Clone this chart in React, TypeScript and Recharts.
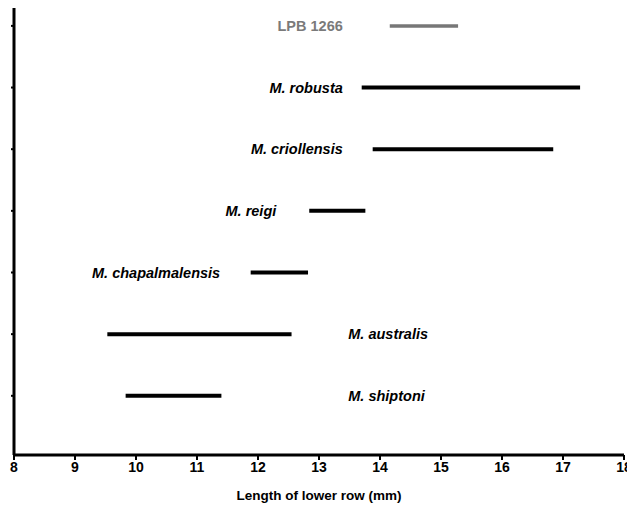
import { ComposedChart, Line, Scatter, XAxis, YAxis, Label } from "recharts";

// rows from bottom (0) to top (6)
const species = [
  "M. shiptoni",
  "M. australis",
  "M. chapalmalensis",
  "M. reigi",
  "M. criollensis",
  "M. robusta",
  "LPB 1266",
];
const minLength = [9.83, 9.53, 11.88, 12.84, 13.88, 13.7, 14.16];
const maxLength = [11.4, 12.55, 12.82, 13.76, 16.84, 17.28, 15.28];
// where each name sits along the mm axis, and on which side of it
const labelAt = [13.48, 13.48, 11.38, 12.3, 13.39, 13.39, 13.39];
const labelSide = ["right", "right", "left", "left", "left", "left", "left"];
const xTicks = [8, 9, 10, 11, 12, 13, 14, 15, 16, 17, 18];
const rowTicks = [0, 1, 2, 3, 4, 5, 6];

const FONT = "'Liberation Sans', Arial, sans-serif";

const rows = species.map((name, i) => ({
  name,
  data: [
    { x: minLength[i], y: i },
    { x: maxLength[i], y: i },
  ],
}));

const labels = species.map((name, i) => ({
  x: labelAt[i],
  y: i,
  name,
  side: labelSide[i],
}));

const NameLabel = (props: any) => {
  const { cx, cy, payload } = props;
  const isRef = payload.name.startsWith("LPB");
  return (
    <text
      x={cx}
      y={cy}
      dy="0.35em"
      textAnchor={payload.side === "left" ? "end" : "start"}
      fontFamily={FONT}
      fontSize={14.5}
      fontWeight="bold"
      fontStyle={isRef ? "normal" : "italic"}
      fill={isRef ? "#7a7a7a" : "#000"}
    >
      {payload.name}
    </text>
  );
};

export default function App() {
  return (
    <ComposedChart
      width={627}
      height={498}
      margin={{ top: 0, right: 11, bottom: 0, left: 0 }}
    >
      <XAxis
        type="number"
        dataKey="x"
        domain={[8, 18]}
        ticks={xTicks}
        allowDataOverflow
        height={51}
        axisLine={{ stroke: "#000", strokeWidth: 3 }}
        tickLine={{ stroke: "#000", strokeWidth: 2 }}
        tickSize={5}
        tickMargin={2}
        tick={{ fill: "#000", fontFamily: FONT, fontSize: 14, fontWeight: "bold" }}
      >
        <Label
          value="Length of lower row (mm)"
          position="insideBottom"
          offset={6}
          style={{ fill: "#000", fontFamily: FONT, fontSize: 13.5, fontWeight: "bold" }}
        />
      </XAxis>
      <YAxis
        type="number"
        dataKey="y"
        domain={[-0.96, 6.29]}
        ticks={rowTicks}
        allowDataOverflow
        width={6}
        axisLine={{ stroke: "#000", strokeWidth: 3 }}
        tickLine={{ stroke: "#000", strokeWidth: 2 }}
        tickSize={3}
        tickFormatter={() => ""}
      />
      {rows.map((r, i) => (
        <Line
          key={r.name}
          data={r.data}
          dataKey="y"
          stroke={i === 6 ? "#777" : "#000"}
          strokeWidth={i === 6 ? 3.5 : 4}
          dot={false}
          activeDot={false}
          isAnimationActive={false}
        />
      ))}
      <Scatter data={labels} shape={<NameLabel />} isAnimationActive={false} />
    </ComposedChart>
  );
}
